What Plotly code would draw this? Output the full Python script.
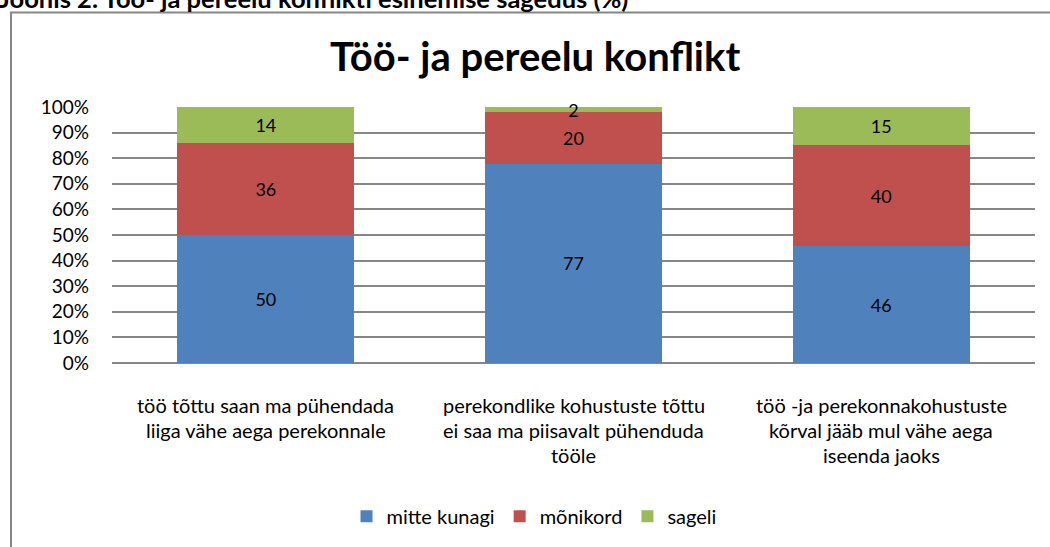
import plotly.graph_objects as go

categories = [
    "töö tõttu saan ma pühendada<br>liiga vähe aega perekonnale",
    "perekondlike kohustuste tõttu<br>ei saa ma piisavalt pühenduda<br>tööle",
    "töö -ja perekonnakohustuste<br>kõrval jääb mul vähe aega<br>iseenda jaoks",
]
cat_ids = ["c1", "c2", "c3"]
series_names = ["mitte kunagi", "mõnikord", "sageli"]
mitte_kunagi = [50, 77, 46]
monikord = [36, 20, 40]
sageli = [14, 2, 15]
series_values = [mitte_kunagi, monikord, sageli]
colors = ["#4F81BD", "#C0504D", "#9BBB59"]
y_ticks = [0, 10, 20, 30, 40, 50, 60, 70, 80, 90, 100]
y_ticklabels = [f"{v}%" for v in y_ticks]

FONT = "Lato"
W, H = 1050, 547
L, R, T, B = 112, 15, 107, 181
PW = W - L - R
PH = H - T - B


def px_x(px):
    return (px - L) / PW


def px_y(py):
    return (H - B - py) / PH


fig = go.Figure()
for name, vals, col in zip(series_names, series_values, colors):
    fig.add_trace(go.Bar(
        x=cat_ids, y=vals, name=name,
        marker=dict(color=col, line=dict(width=0)),
        text=vals, texttemplate="%{text}",
        textposition="inside", insidetextanchor="middle", textangle=0,
        textfont=dict(family=FONT, size=18, color="black"),
        cliponaxis=False,
        hoverinfo="skip",
    ))

annotations = []
for cid, label in zip(cat_ids, categories):
    for i, line in enumerate(label.split("<br>")):
        annotations.append(dict(
            x=cid, xref="x", y=px_y(408 + 25.5 * i), yref="paper",
            text=line, showarrow=False, xanchor="center", yanchor="middle",
            font=dict(family=FONT, size=20, color="black"),
        ))

annotations.append(dict(
    x=px_x(535), y=px_y(55), xref="paper", yref="paper",
    text="<b>Töö- ja pereelu konflikt</b>", showarrow=False,
    xanchor="center", yanchor="middle",
    font=dict(family=FONT, size=40, color="black"),
))
annotations.append(dict(
    x=px_x(-3), y=px_y(14), xref="paper", yref="paper",
    text="<b>Joonis 2. Töö- ja pereelu konflikti esinemise sagedus (%)</b>", showarrow=False,
    xanchor="left", yanchor="bottom",
    font=dict(family=FONT, size=25.5, color="black"),
))

fig.update_layout(
    width=W, height=H,
    margin=dict(l=L, r=R, t=T, b=B),
    barmode="stack", barnorm="percent", bargap=0.425,
    plot_bgcolor="white", paper_bgcolor="white",
    font=dict(family=FONT, size=19, color="black"),
    uniformtext=dict(minsize=18, mode="show"),
    showlegend=True,
    legend=dict(
        orientation="h", x=px_x(534), xanchor="center", y=px_y(521), yanchor="middle",
        font=dict(family=FONT, size=20, color="black"),
        itemwidth=30, traceorder="normal",
    ),
    annotations=annotations,
    shapes=[dict(
        type="rect", xref="paper", yref="paper",
        x0=px_x(11), x1=px_x(1070), y0=px_y(580), y1=px_y(11.5),
        line=dict(color="#868686", width=2), fillcolor="rgba(0,0,0,0)", layer="below",
    )],
)
fig.update_xaxes(
    showticklabels=False, showgrid=False, zeroline=False, showline=False,
    categoryorder="array", categoryarray=cat_ids,
)
fig.update_yaxes(
    range=[0, 100], tickvals=y_ticks, ticktext=y_ticklabels,
    showgrid=True, gridcolor="#868686", gridwidth=1.5,
    zeroline=True, zerolinecolor="#868686", zerolinewidth=1.5,
    showline=False, ticks="", ticklabelstandoff=22,
    tickfont=dict(family=FONT, size=19, color="black"),
)

fig.write_html("out.html", config={"displayModeBar": False},
               post_script="document.body.style.margin='0';")
